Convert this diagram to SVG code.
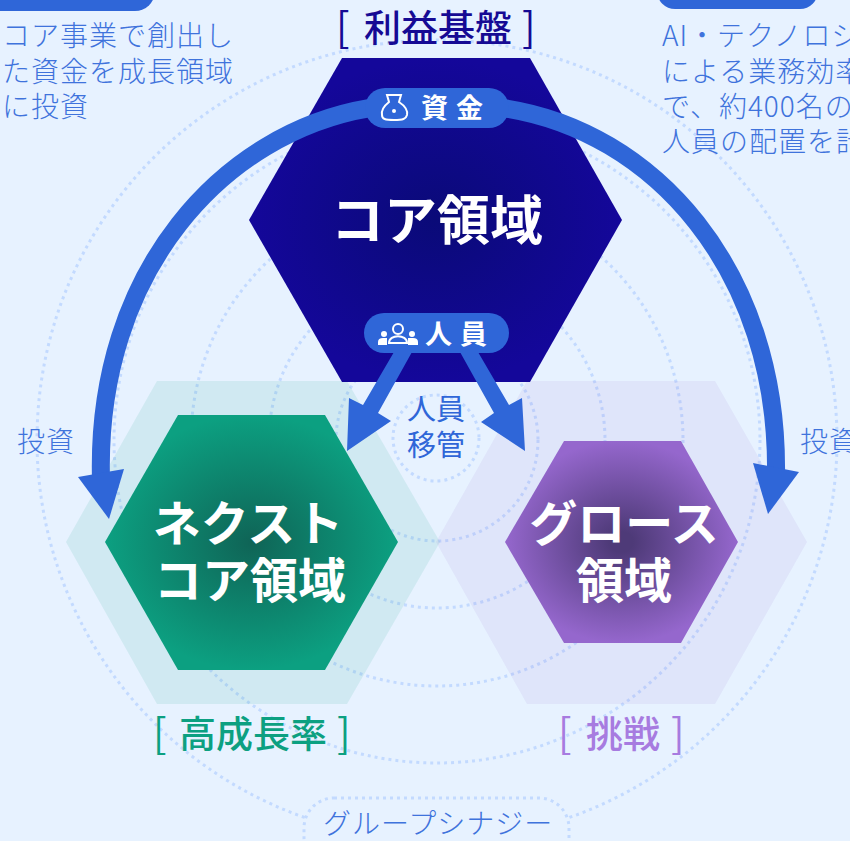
<svg xmlns="http://www.w3.org/2000/svg" width="850" height="841" viewBox="0 0 850 841">
<style>
text{font-family:"Noto Sans CJK JP","Noto Sans",sans-serif}
.ring{fill:none;stroke:#c3daff;stroke-width:3;stroke-dasharray:3 4}
.side{fill:#3f73dc;font-size:28px;letter-spacing:1px;font-weight:300}
.lab{font-size:37px;font-weight:500}
.br{font-weight:400;font-size:40px}
.node{fill:#fff;font-size:48px;font-weight:700;text-anchor:middle}
.pill{fill:#2f66d8}
.pt{fill:#fff;font-size:27px;font-weight:700}
.link{fill:none;stroke:#2f66d8;stroke-width:18}
.head{fill:#2f66d8}
.ic{fill:none;stroke:#fff;stroke-width:2}
</style>
<defs>
<radialGradient id="gb"><stop offset="0" stop-color="#0a0a78"/><stop offset="1" stop-color="#14079a"/></radialGradient>
<radialGradient id="gg"><stop offset="0" stop-color="#0f6456"/><stop offset="1" stop-color="#0ca081"/></radialGradient>
<radialGradient id="gp"><stop offset="0.1" stop-color="#4e3a78"/><stop offset="1" stop-color="#9567cd"/></radialGradient>
</defs>
<rect width="850" height="841" fill="#e7f2ff"/>
<g id="rings">
<circle class="ring" cx="437" cy="440" r="400"/>
<circle class="ring" cx="437" cy="440" r="323"/>
<circle class="ring" cx="437" cy="440" r="246"/>
<circle class="ring" cx="437" cy="440" r="168"/>
<circle class="ring" cx="437" cy="440" r="101"/>
<circle class="ring" cx="436" cy="438" r="43"/>
</g>
<g id="halo-next"><polygon points="157,381 347,381 440,542 347,704 157,704 66,542" fill="#0ca081" fill-opacity=".1"/></g>
<g id="halo-growth"><polygon points="527,381 715,381 807,542 715,704 527,704 436,542" fill="#9567cd" fill-opacity=".09"/></g>
<g id="core">
<polygon points="342,58 530,58 622,220 530,382 342,382 249,220" fill="url(#gb)"/>
<text class="node" x="437" y="240" style="font-size:53px">コア領域</text>
<text class="lab" y="42" fill="#160a94"><tspan class="br" x="336">[</tspan><tspan x="364">利益基盤</tspan><tspan class="br" x="522">]</tspan></text>
</g>
<g id="next">
<polygon points="178,415 325,415 398,542 325,670 178,670 105,542" fill="url(#gg)"/>
<text class="node" x="248" y="541">ネクスト</text>
<text class="node" x="250" y="598">コア領域</text>
<text class="lab" y="748" fill="#0ca081"><tspan class="br" x="153">[</tspan><tspan x="179">高成長率</tspan><tspan class="br" x="337">]</tspan></text>
</g>
<g id="growth">
<polygon points="564,441 681,441 738,542 681,643 564,643 505,542" fill="url(#gp)"/>
<text class="node" x="624" y="541">グロース</text>
<text class="node" x="624" y="598">領域</text>
<text class="lab" y="748" fill="#a77be0"><tspan class="br" x="558">[</tspan><tspan x="586">挑戦</tspan><tspan class="br" x="671">]</tspan></text>
</g>
<g id="connectors">
<path class="link" d="M370 108C225 132 95 270 101 480"/>
<polygon class="head" points="78,477 124,469 109,519"/>
<path class="link" d="M503 108C653 130 779 270 776 475"/>
<polygon class="head" points="753,463 799,472 768,514"/>
<polygon class="head" points="394,352 412,352 378,413 391,421 347,451 349,398 363,405"/>
<polygon class="head" points="460,352 478,352 509,405 522,398 525,451 481,422 494,413"/>
</g>
<g id="pill-fund">
<rect class="pill" x="365" y="88" width="144" height="40" rx="20"/>
<path class="ic" d="M387 95H401L399 102C405 106 408 110 407 115C406 119 403 120 394 120C385 120 382 119 382 115C381 110 384 106 389 102Z"/>
<circle cx="394" cy="111" r="2" fill="#fff"/>
<text class="pt" x="421" y="118">資</text><text class="pt" x="456" y="118">金</text>
</g>
<g id="pill-people">
<rect class="pill" x="364" y="313" width="145" height="40" rx="20"/>
<circle class="ic" cx="398" cy="329" r="5"/>
<path class="ic" d="M389 343C389 334 407 334 407 343Z"/>
<circle cx="384" cy="334" r="3" fill="#fff"/><path d="M378 345V342Q378 338 383 338H387V345Z" fill="#fff"/>
<circle cx="412" cy="334" r="3" fill="#fff"/><path d="M408 345V338H413Q418 338 418 342V345Z" fill="#fff"/>
<text class="pt" x="425" y="344">人</text><text class="pt" x="460" y="344">員</text>
</g>
<g id="labels">
<text class="side" x="2" y="46">コア事業で創出し</text>
<text class="side" x="2" y="82">た資金を成長領域</text>
<text class="side" x="2" y="117">に投資</text>
<text class="side" x="662" y="46">AI・テクノロジー</text>
<text class="side" x="662" y="82">による業務効率化</text>
<text class="side" x="662" y="117">で、約400名の</text>
<text class="side" x="662" y="152">人員の配置を計画</text>
<text class="side" x="17" y="452">投資</text>
<text class="side" x="800" y="452">投資</text>
<text x="436" y="420" font-size="29" fill="#2f66d8" text-anchor="middle">人員</text>
<text x="436" y="456" font-size="29" fill="#2f66d8" text-anchor="middle">移管</text>
</g>
<g id="synergy">
<rect x="304" y="798" width="265" height="70" rx="30" fill="#e7f2ff" stroke="#c3daff" stroke-width="3" stroke-dasharray="3 4"/>
<text class="side" x="323" y="834" letter-spacing="1.4">グループシナジー</text>
</g>
<g id="top-left"><rect class="pill" x="-20" y="-30" width="175" height="41" rx="20"/></g>
<g id="top-right"><rect class="pill" x="657" y="-30" width="161" height="39" rx="18"/></g>
</svg>
